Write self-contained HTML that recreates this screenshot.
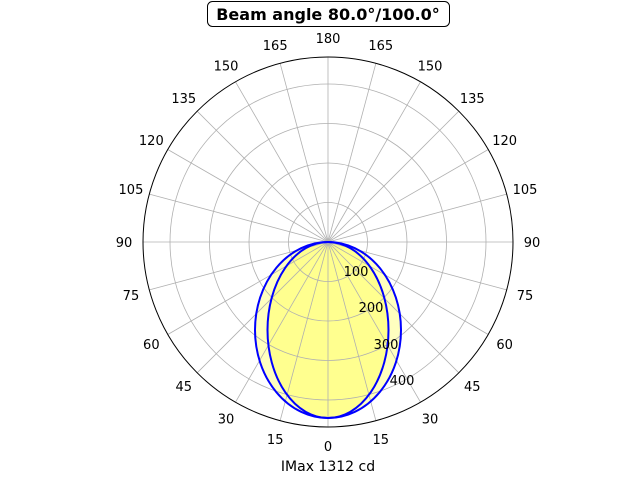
<!DOCTYPE html>
<html><head><meta charset="utf-8"><style>
html,body{margin:0;padding:0;background:#fff;}
svg{display:block;font-family:"DejaVu Sans",sans-serif;}
</style></head><body>
<svg id="s" width="640" height="480" viewBox="0 0 640 480" xmlns="http://www.w3.org/2000/svg">
<g id="fill">
<ellipse cx="328" cy="330" rx="73" ry="88" fill="#ffff00" fill-opacity="0.25"/>
<ellipse cx="328" cy="330" rx="60.5" ry="88" fill="#ffff00" fill-opacity="0.25"/>
</g>
<g id="grid" stroke="#b0b0b0" stroke-width="0.8" fill="none"></g>
<circle cx="328" cy="242" r="185" fill="none" stroke="#000" stroke-width="1"/>
<g id="curves" fill="none" stroke="#0000ff" stroke-width="2">
<ellipse cx="328" cy="330" rx="73" ry="88"/>
<ellipse cx="328" cy="330" rx="60.5" ry="88"/>
</g>
<g id="lbl" font-size="13" fill="#000" text-anchor="middle"></g>
<g font-size="13" fill="#000" text-anchor="middle">
<text x="356" y="276">100</text><text x="371" y="312">200</text>
<text x="386" y="349">300</text><text x="402" y="385">400</text>
</g>
<rect x="207.5" y="1.5" width="242" height="25" rx="5" fill="#fff" stroke="#000" stroke-width="1"/>
<text x="328" y="20" font-size="16" font-weight="bold" text-anchor="middle">Beam angle 80.0°/100.0°</text>
<text x="328" y="471" font-size="14" text-anchor="middle">IMax 1312 cd</text>
</svg>
<script>
var cx=328,cy=242,NS="http://www.w3.org/2000/svg";
function el(p,t,a){var e=document.createElementNS(NS,t);for(var k in a)e.setAttribute(k,a[k]);document.getElementById(p).appendChild(e);return e;}
[39.5,79,118.5,158].forEach(function(r){el("grid","circle",{cx:cx,cy:cy,r:r});});
for(var a=0;a<360;a+=15){var t=a*Math.PI/180;el("grid","line",{x1:cx,y1:cy,x2:cx+185*Math.sin(t),y2:cy+185*Math.cos(t)});}
for(var a=0;a<=180;a+=15){var t=a*Math.PI/180,r=204;
 [1,-1].forEach(function(s){ if(s<0&&(a==0||a==180))return;
 var x=cx+s*r*Math.sin(t),y=cy+r*Math.cos(t)+5;
 var e=el("lbl","text",{x:x,y:y});e.textContent=a;});}
</script>
</body></html>
